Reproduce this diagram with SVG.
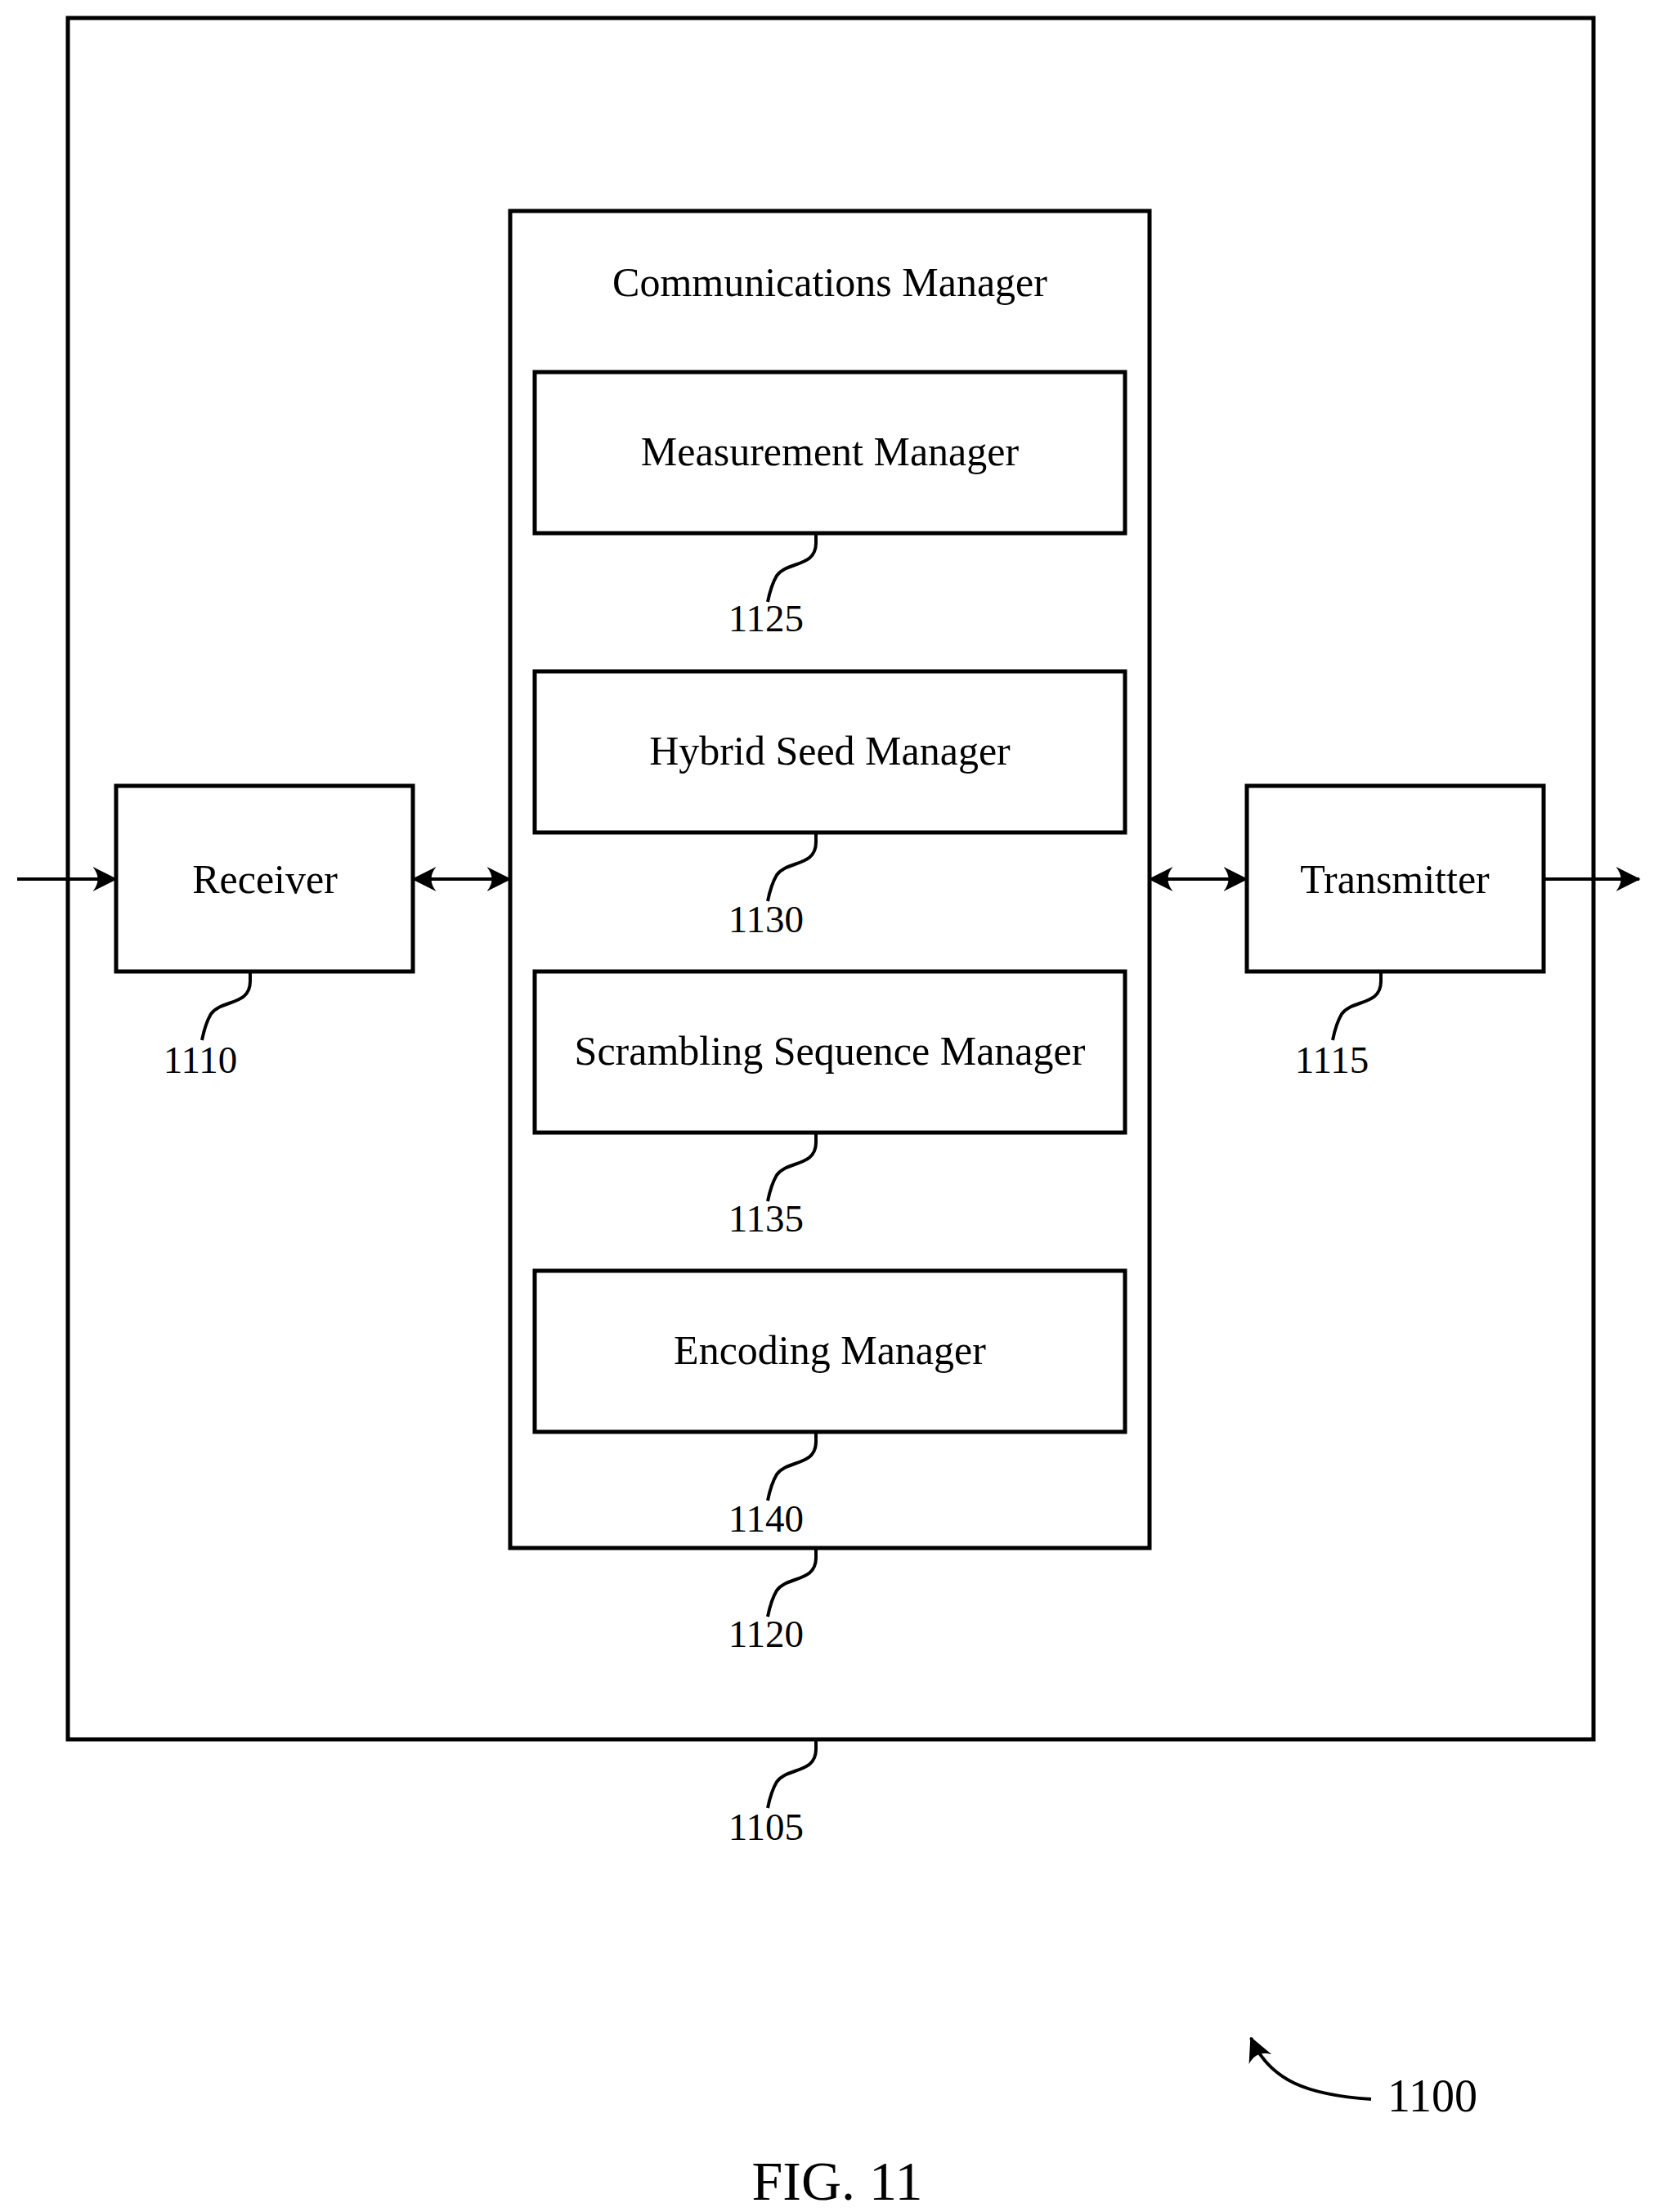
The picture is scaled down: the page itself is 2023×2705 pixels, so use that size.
<svg xmlns="http://www.w3.org/2000/svg" width="2023" height="2705" viewBox="0 0 2023 2705">
<style>
rect{fill:none;stroke:#000;stroke-width:5}
text{font-family:"Liberation Serif","Times New Roman",serif;font-size:50px;fill:#000;text-anchor:middle}
.n{font-size:47px}
.c{fill:none;stroke:#000;stroke-width:4}
</style>
<defs>
<marker id="a" viewBox="0 0 20 20" refX="19" refY="10" markerWidth="30" markerHeight="30" markerUnits="userSpaceOnUse" orient="auto-start-reverse"><path d="M0,0 Q8,10 0,20 L20,10 Z" fill="#000"/></marker>
<path id="ld" d="M0,0 v12 c0,30 -35,22 -48,40 c-6,10 -9,22 -11,32"/>
</defs>
<g id="n1105"><rect x="83" y="22" width="1866" height="2105"/><use href="#ld" x="998" y="2127" class="c"/><text class="n" x="937" y="2250">1105</text></g>
<g id="n1120"><rect x="624" y="258" width="782" height="1635"/><text x="1015" y="362">Communications Manager</text><use href="#ld" x="998" y="1893" class="c"/><text class="n" x="937" y="2014">1120</text></g>
<g id="n1125"><rect x="654" y="455" width="722" height="197"/><text x="1015" y="569">Measurement Manager</text><use href="#ld" x="998" y="652" class="c"/><text class="n" x="937" y="772">1125</text></g>
<g id="n1130"><rect x="654" y="821" width="722" height="197"/><text x="1015" y="935">Hybrid Seed Manager</text><use href="#ld" x="998" y="1018" class="c"/><text class="n" x="937" y="1140">1130</text></g>
<g id="n1135"><rect x="654" y="1188" width="722" height="197"/><text x="1015" y="1302">Scrambling Sequence Manager</text><use href="#ld" x="998" y="1385" class="c"/><text class="n" x="937" y="1506">1135</text></g>
<g id="n1140"><rect x="654" y="1554" width="722" height="197"/><text x="1015" y="1668">Encoding Manager</text><use href="#ld" x="998" y="1751" class="c"/><text class="n" x="937" y="1873">1140</text></g>
<g id="n1110"><rect x="142" y="961" width="363" height="227"/><text x="324" y="1092">Receiver</text><use href="#ld" x="306" y="1188" class="c"/><text class="n" x="245" y="1312">1110</text></g>
<g id="n1115"><rect x="1525" y="961" width="363" height="227"/><text x="1706" y="1092">Transmitter</text><use href="#ld" x="1689" y="1188" class="c"/><text class="n" x="1629" y="1312">1115</text></g>
<g id="connectors" class="c">
<line x1="21" y1="1075" x2="142" y2="1075" marker-end="url(#a)"/>
<line x1="505" y1="1075" x2="624" y2="1075" marker-start="url(#a)" marker-end="url(#a)"/>
<line x1="1406" y1="1075" x2="1525" y2="1075" marker-start="url(#a)" marker-end="url(#a)"/>
<line x1="1888" y1="1075" x2="2005" y2="1075" marker-end="url(#a)"/>
<path d="M1677,2567 C1600,2562 1553,2545 1530,2492" marker-end="url(#a)"/>
</g>
<text x="1752" y="2582" style="font-size:56px">1100</text>
<text x="1024" y="2690" style="font-size:68px">FIG. 11</text>
</svg>
